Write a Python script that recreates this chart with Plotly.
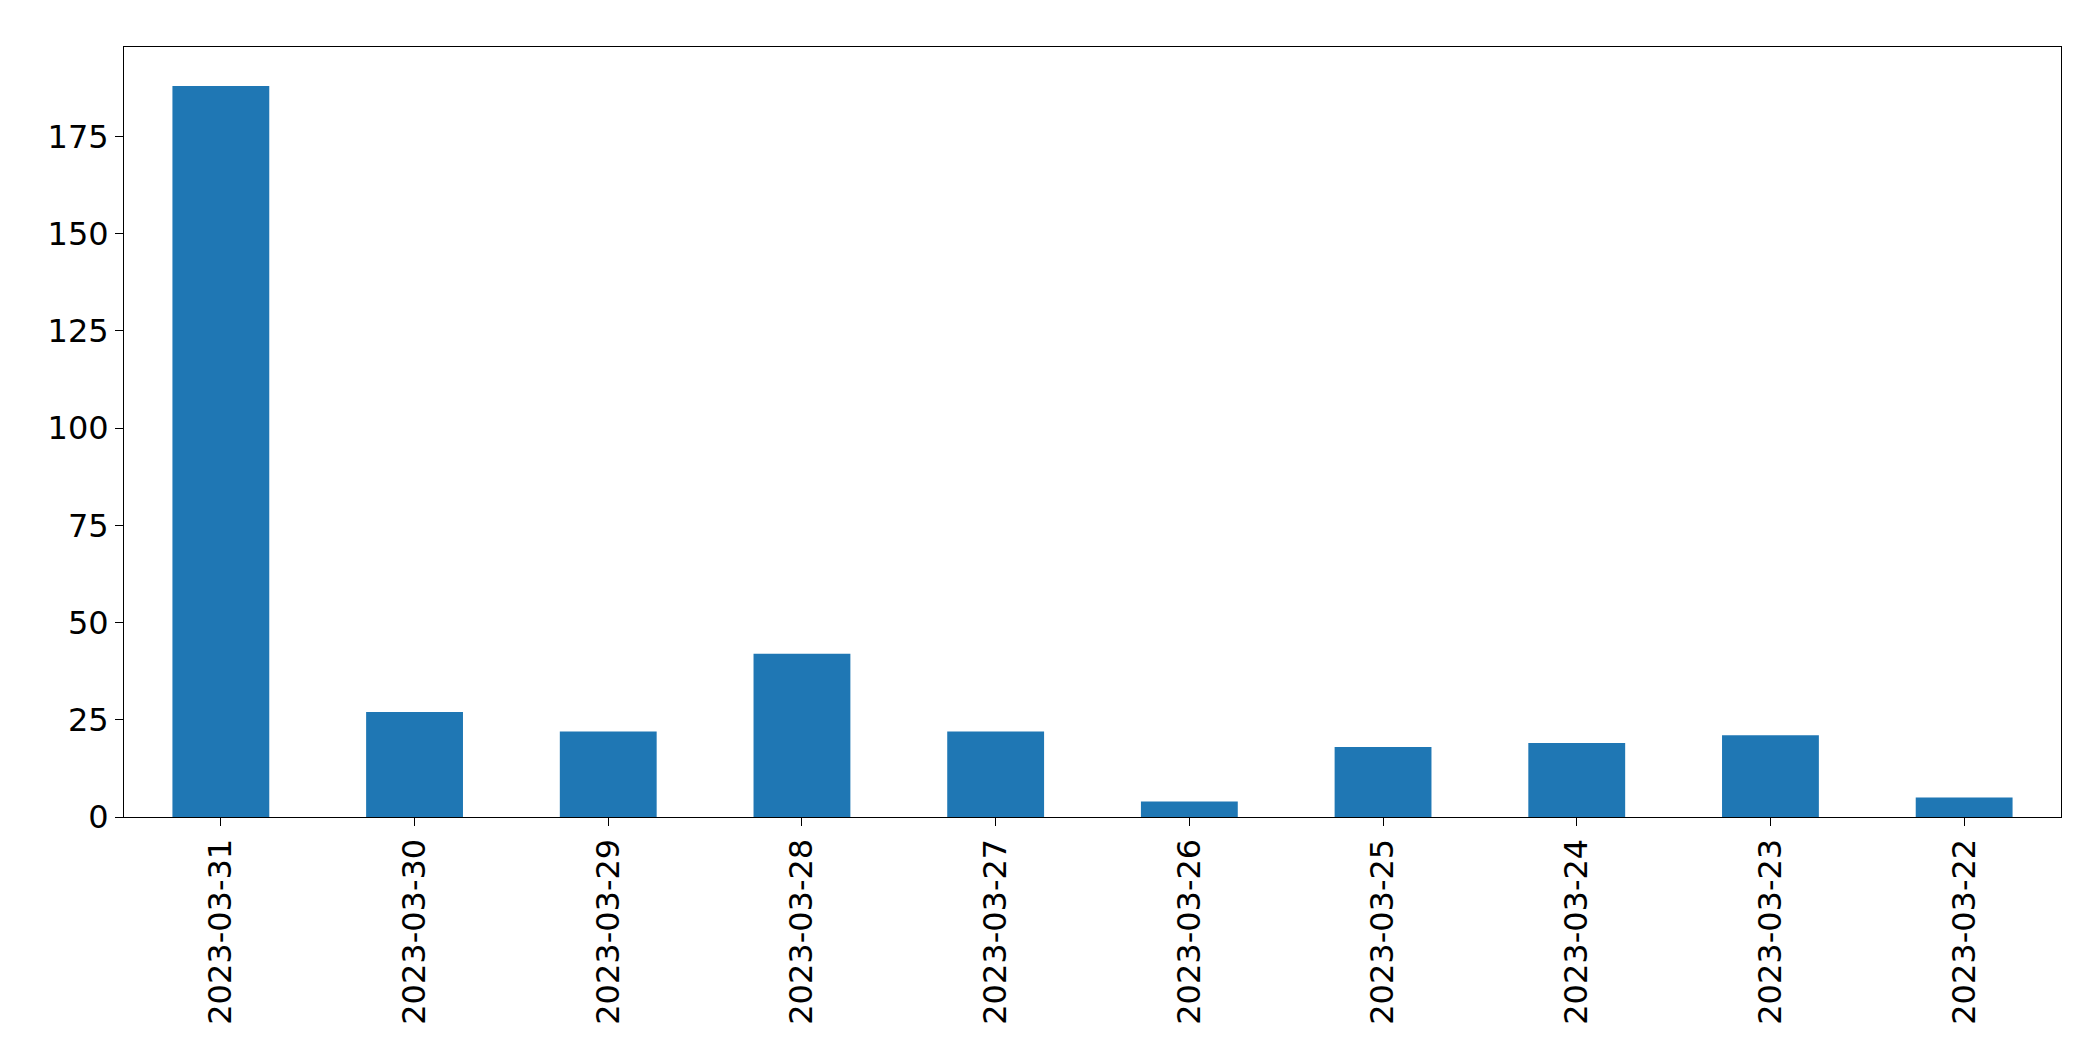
import plotly.graph_objects as go

dates = ["2023-03-31", "2023-03-30", "2023-03-29", "2023-03-28", "2023-03-27",
         "2023-03-26", "2023-03-25", "2023-03-24", "2023-03-23", "2023-03-22"]
counts = [188, 27, 22, 42, 22, 4, 18, 19, 21, 5]

fig = go.Figure(go.Bar(x=dates, y=counts, width=0.5, marker=dict(color="#1f77b4", line=dict(width=0))))

fig.update_layout(
    width=2093, height=1061,
    plot_bgcolor="white", paper_bgcolor="white",
    margin=dict(l=116, r=40, t=39, b=252),
    font=dict(family="DejaVu Sans", size=32, color="black"),
    showlegend=False,
)
fig.update_xaxes(type="category", range=[-0.5, 9.5], tickangle=-90,
                 showline=True, linecolor="black", mirror=True,
                 ticks="outside", ticklen=8, tickcolor="black", showgrid=False)
fig.update_yaxes(range=[0, 198], tickvals=[0, 25, 50, 75, 100, 125, 150, 175],
                 showline=True, linecolor="black", mirror=True,
                 ticks="outside", ticklen=8, tickcolor="black", showgrid=False, zeroline=False)

fig.write_html("out.html")
